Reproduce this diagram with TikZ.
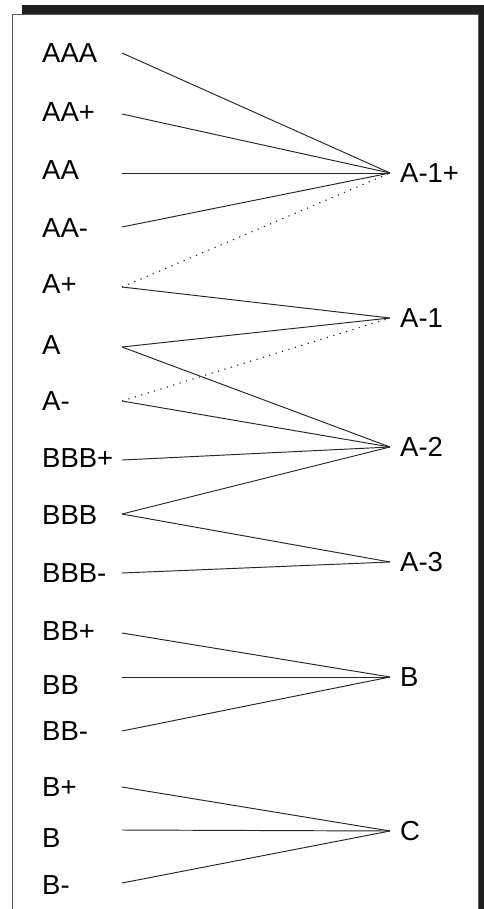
\documentclass[tikz,border=0pt]{standalone}
\usepackage{fontspec}
\setmainfont{Liberation Sans}
\begin{document}
\begin{tikzpicture}[x=1pt, y=-1pt, font=\fontsize{27.5}{32}\selectfont,
  grade/.style={anchor=west, inner sep=0pt},
  group/.style={anchor=west, inner xsep=10pt, inner ysep=0pt},
  link/.style={line width=0.95pt, black!85},
  weak/.style={line width=1.1pt, black!85, dash pattern=on 1.2pt off 5.5pt}]
  \useasboundingbox (0,0) rectangle (483,909);
  % frame with shadow
  \fill[black!88] (22,5) rectangle (495,930);
  \draw[fill=white, draw=black!65, line width=0.9pt] (12,14) rectangle (478,930);
  % left-hand grades
  \foreach \n/\lab/\y/\ty in {aaa/AAA/53/53, aap/AA+/114/112, aa/AA/173/170,
      aam/AA-/227/228, ap/A+/287/284, a/A/347/345, am/A-/401/401,
      bbbp/BBB+/460/458, bbb/BBB/514/515, bbbm/BBB-/573/573,
      bbp/BB+/633/631, bb/BB/677/685, bbm/BB-/731/731,
      bp/B+/787/787, b/B/830/838, bm/B-/883/885}{
    \coordinate (\n) at (122,\y);
    \node[grade] (\n-txt) at (42,\ty) {\lab};
  }
  % right-hand groups
  \foreach \n/\lab/\y in {g1p/A-1+/173, g1/A-1/318, g2/A-2/447,
      g3/A-3/562, gb/B/677, gc/C/831}{
    \node[group] (\n) at (390,\y) {\lab};
  }
  % connections
  \foreach \a/\b in {aaa/g1p, aap/g1p, aa/g1p, aam/g1p,
      ap/g1, a/g1, a/g2, am/g2, bbbp/g2, bbb/g2, bbb/g3, bbbm/g3,
      bbp/gb, bb/gb, bbm/gb, bp/gc, b/gc, bm/gc}{
    \draw[link] (\a) -- (\b.west);
  }
  \draw[weak] (ap) -- (g1p.west);
  \draw[weak] (am) -- (g1.west);
\end{tikzpicture}
\end{document}
